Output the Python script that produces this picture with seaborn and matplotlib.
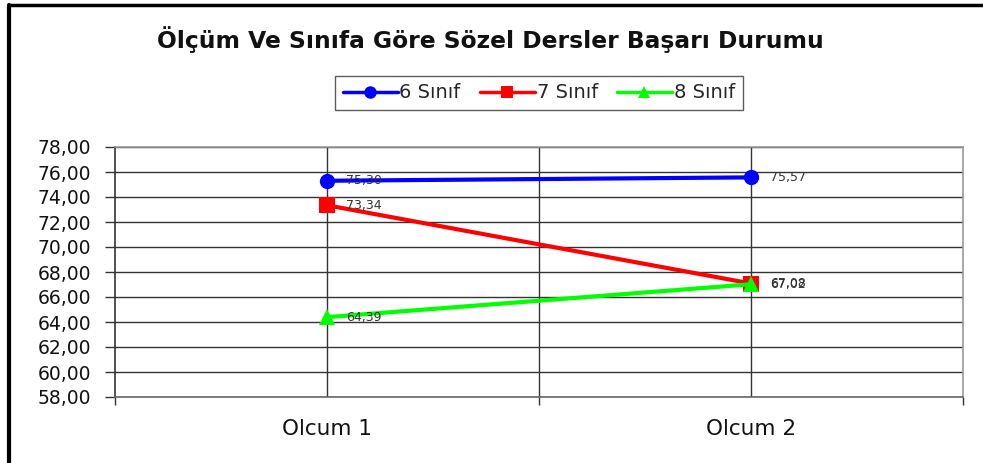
import numpy as np
import pandas as pd
import matplotlib
matplotlib.use("Agg")
import matplotlib.pyplot as plt
from matplotlib.lines import Line2D
import seaborn as sns

# chart values
categories = ["Olcum 1", "Olcum 2"]
series_names = ["6 Sınıf", "7 Sınıf", "8 Sınıf"]
sinif_6 = [75.30, 75.57]
sinif_7 = [73.34, 67.08]
sinif_8 = [64.39, 67.02]
y_ticks = [58, 60, 62, 64, 66, 68, 70, 72, 74, 76, 78]

colors = {"6 Sınıf": "#0000ff", "7 Sınıf": "#ff0000", "8 Sınıf": "#00ff00"}
markers = {"6 Sınıf": "o", "7 Sınıf": "s", "8 Sınıf": "^"}

rows = []
for name, vals in zip(series_names, [sinif_6, sinif_7, sinif_8]):
    for i, v in enumerate(vals):
        rows.append({"pos": i, "olcum": categories[i], "sinif": name, "deger": v})
df = pd.DataFrame(rows)

sns.set_theme(style="white")
plt.rcParams["font.family"] = ["DejaVu Sans"]

fig = plt.figure(figsize=(9.83, 4.63), dpi=100)
ax = fig.add_axes([115 / 983, 1 - 397 / 463, (963 - 115) / 983, (397 - 147) / 463])

# gridlines first
for y in y_ticks:
    ax.axhline(y, color="#333333", lw=1, zorder=1)
for x in [0, 0.5, 1]:
    ax.axvline(x, color="#333333", lw=1, zorder=1)

sns.lineplot(data=df, x="pos", y="deger", hue="sinif", style="sinif",
             palette=colors, markers=markers, dashes=False, lw=3,
             markersize=11, markeredgewidth=0, ax=ax, legend=False, zorder=3)

# data labels
for name in series_names:
    sub = df[df["sinif"] == name]
    for _, r in sub.iterrows():
        lbl = f"{r['deger']:.2f}".replace(".", ",")
        ax.annotate(lbl, (r["pos"], r["deger"]), xytext=(14, 0),
                    textcoords="offset points", va="center", ha="left",
                    fontsize=9, color="#333333", zorder=4)

ax.set_xlim(-0.5, 1.5)
ax.set_ylim(58, 78)
ax.set_yticks(y_ticks)
ax.set_yticklabels([f"{t:.2f}".replace(".", ",") for t in y_ticks], fontsize=13.5, color="#111111")
ax.set_xticks([0, 1])
ax.set_xticklabels(categories, fontsize=15.5, color="#111111")
ax.tick_params(axis="x", length=0, pad=16)
ax.tick_params(axis="y", length=7, width=1, color="#333333", direction="out", left=True, pad=10)
ax.set_xlabel("")
ax.set_ylabel("")

# minor ticks below x axis at category boundaries
ax.set_xticks([-0.5, 0.5, 1.5], minor=True)
ax.tick_params(axis="x", which="minor", length=6, width=1, color="#333333", direction="out", bottom=True)

for side, sp in ax.spines.items():
    sp.set_visible(True)
    sp.set_color("#999999")
    sp.set_linewidth(1.2)
ax.spines["left"].set_color("#333333")
ax.spines["bottom"].set_color("#666666")

fig.text(490 / 983, 1 - 40 / 463, "Ölçüm Ve Sınıfa Göre Sözel Dersler Başarı Durumu",
         ha="center", va="center", fontsize=16.8, fontweight="bold", color="#111111")

handles = [Line2D([], [], color=colors[n], marker=markers[n], lw=2.5, markersize=9,
                  markeredgewidth=0) for n in series_names]
leg = fig.legend(handles, series_names, loc="center", bbox_to_anchor=(539 / 983, 1 - 93 / 463),
                 ncol=3, frameon=True, fancybox=False, fontsize=14, handlelength=2.8,
                 handletextpad=0.1, columnspacing=1.0, borderpad=0.4)
leg.get_frame().set_edgecolor("#333333")
leg.get_frame().set_linewidth(1)

# outer chart frame (left and top)
fig.add_artist(Line2D([9 / 983, 9 / 983], [0, 1 - 5 / 463], color="black", lw=3, transform=fig.transFigure))
fig.add_artist(Line2D([9 / 983, 1], [1 - 5 / 463, 1 - 5 / 463], color="black", lw=2.5, transform=fig.transFigure))

fig.savefig("out.png", dpi=100)
